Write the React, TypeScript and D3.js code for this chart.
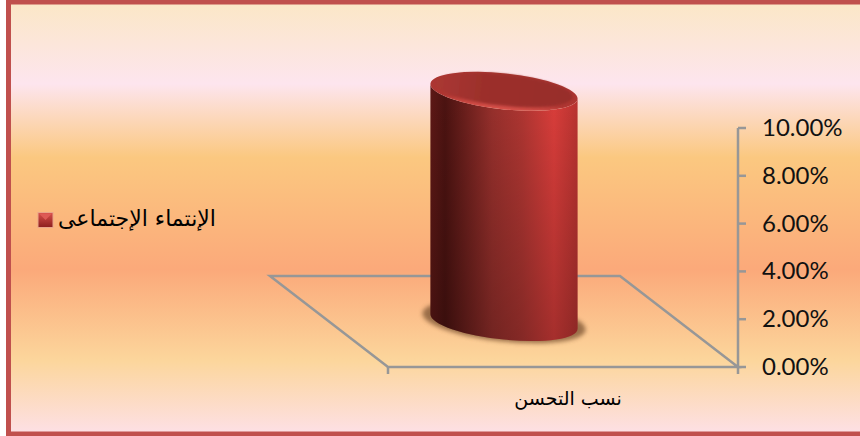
import React, { useEffect, useRef } from "react";
import * as d3 from "d3";

const categories = ["نسب التحسن"];
const seriesName = "الإنتماء الإجتماعى";
const seriesValues = [9.63];
const tickValues = [0, 2, 4, 6, 8, 10];

const WIDTH = 860;
const HEIGHT = 436;

const BG_STOPS: [number, string][] = [
  [0, "#fbe7c6"],
  [0.19, "#fde5ee"],
  [0.36, "#fbc880"],
  [0.62, "#fba97a"],
  [0.83, "#fcd69c"],
  [1, "#fde0e6"],
];

const BODY_STOPS: [number, string][] = [
  [0, "#5e1816"],
  [0.1, "#4c1311"],
  [0.42, "#98302c"],
  [0.62, "#b03632"],
  [0.84, "#dc3e3b"],
  [1, "#bb3431"],
];

export default function App() {
  const ref = useRef<SVGSVGElement>(null);

  useEffect(() => {
    const svg = d3.select(ref.current!);
    svg.selectAll("*").remove();
    const defs = svg.append("defs");

    const addGradient = (id: string, stops: [number, string][], vertical: boolean) => {
      const g = defs.append("linearGradient").attr("id", id)
        .attr("x1", 0).attr("y1", 0).attr("x2", vertical ? 0 : 1).attr("y2", vertical ? 1 : 0);
      stops.forEach(([o, c]) => g.append("stop").attr("offset", o).attr("stop-color", c));
      return g;
    };

    addGradient("bg", BG_STOPS, true);
    addGradient("body", BODY_STOPS, false);
    addGradient("capRim", [[0, "#a83531"], [0.75, "#ae3632"], [1, "#d9524b"]], true);
    addGradient("cap", [[0, "#aa3834"], [0.35, "#9c2f2b"], [1, "#982d2a"]], false);
    addGradient("legendKey", [[0, "#d9504c"], [1, "#8c1f1d"]], true);

    // Darkening towards the foot of the cylinder
    const shade = defs.append("linearGradient").attr("id", "bodyShade")
      .attr("x1", 0).attr("y1", 0).attr("x2", 0).attr("y2", 1);
    shade.append("stop").attr("offset", 0).attr("stop-color", "#000").attr("stop-opacity", 0);
    shade.append("stop").attr("offset", 1).attr("stop-color", "#000").attr("stop-opacity", 0.25);

    const blur = defs.append("filter").attr("id", "soft")
      .attr("x", "-10%").attr("y", "-20%").attr("width", "120%").attr("height", "140%");
    blur.append("feGaussianBlur").attr("stdDeviation", 2);
    const capBlur = defs.append("filter").attr("id", "capSoft")
      .attr("x", "-5%").attr("y", "-10%").attr("width", "110%").attr("height", "120%");
    capBlur.append("feGaussianBlur").attr("stdDeviation", 1.2);

    // Chart area; the frame runs off the right side of the page
    svg.append("rect").attr("x", 8.5).attr("y", 2).attr("width", 870).attr("height", 432)
      .attr("fill", "url(#bg)").attr("stroke", "#c0504d").attr("stroke-width", 5);

    const y = d3.scaleLinear().domain([0, 10]).range([367, 128]);
    const x = d3.scaleBand<string>().domain(categories).range([388, 738]).padding(0.408);

    const axisColor = "#979797";
    const axisWidth = 2.5;
    const depth = { dx: -118, dy: -91 };
    const [frontLeft, frontRight] = x.range();
    const baseY = y(0);

    // Floor of the 3D plot
    const floor = d3.line();
    svg.append("path")
      .attr("d", floor([
        [frontLeft, baseY],
        [frontRight, baseY],
        [frontRight + depth.dx, baseY + depth.dy],
        [frontLeft + depth.dx, baseY + depth.dy],
      ]) + "Z")
      .attr("fill", "none").attr("stroke", axisColor).attr("stroke-width", axisWidth);

    // Category ticks on the front edge
    x.range().forEach((px) => {
      svg.append("line").attr("x1", px).attr("x2", px).attr("y1", baseY).attr("y2", baseY + 7)
        .attr("stroke", axisColor).attr("stroke-width", axisWidth);
    });

    // Value axis
    const axisX = frontRight;
    svg.append("line").attr("x1", axisX).attr("x2", axisX).attr("y1", y(10)).attr("y2", y(0))
      .attr("stroke", axisColor).attr("stroke-width", axisWidth);
    const ticks = svg.append("g");
    tickValues.forEach((t) => {
      ticks.append("line").attr("x1", axisX).attr("x2", axisX + 8).attr("y1", y(t)).attr("y2", y(t))
        .attr("stroke", axisColor).attr("stroke-width", axisWidth);
      ticks.append("text").attr("x", 762).attr("y", y(t) + 8)
        .attr("font-family", "Lato").attr("font-size", 24).attr("fill", "#111")
        .text(d3.format(".2f")(t) + "%");
    });

    // Cylinder sits mid-way into the floor's depth
    const value = seriesValues[0];
    const cx = x(categories[0])! + x.bandwidth() / 2 + depth.dx / 2;
    const footY = baseY + depth.dy / 2;
    const headY = footY - (y(0) - y(value));
    const halfWidth = x.bandwidth() / 2;
    const ry = 18;
    const tilt = 6;
    const rad = (tilt * Math.PI) / 180;

    // Major radius that gives the tilted ellipse the bar's horizontal extent
    const majorR = Math.sqrt(
      (halfWidth ** 2 - ry ** 2 * Math.sin(rad) ** 2) / Math.cos(rad) ** 2
    );
    // Vertical offset of the ellipse's leftmost and rightmost points
    const sideDy = ((majorR ** 2 - ry ** 2) * Math.sin(rad) * Math.cos(rad)) / halfWidth;

    const arc = (sweep: number, px: number, py: number) =>
      `A${majorR} ${ry} ${tilt} 0 ${sweep} ${px},${py}`;
    const bodyPath =
      `M${cx - halfWidth},${headY - sideDy} L${cx - halfWidth},${footY - sideDy} ` +
      `${arc(0, cx + halfWidth, footY + sideDy)} L${cx + halfWidth},${headY + sideDy} ` +
      `${arc(1, cx - halfWidth, headY - sideDy)} Z`;

    svg.append("ellipse")
      .attr("cx", cx).attr("cy", footY)
      .attr("rx", majorR + 8).attr("ry", ry + 2)
      .attr("transform", `rotate(${tilt} ${cx} ${footY})`)
      .attr("fill", "#7a5230").attr("opacity", 0.75).attr("filter", "url(#soft)");

    svg.append("path").attr("d", bodyPath).attr("fill", "url(#body)");
    svg.append("path").attr("d", bodyPath).attr("fill", "url(#bodyShade)");

    // Top of the cylinder: lit rim along the lower edge, flat face inside
    svg.append("ellipse")
      .attr("cx", cx).attr("cy", headY)
      .attr("rx", majorR).attr("ry", ry)
      .attr("transform", `rotate(${tilt} ${cx} ${headY})`)
      .attr("fill", "url(#capRim)");
    svg.append("ellipse")
      .attr("cx", cx).attr("cy", headY - 1.5)
      .attr("rx", majorR - 5).attr("ry", ry - 2.5)
      .attr("transform", `rotate(${tilt} ${cx} ${headY})`)
      .attr("fill", "url(#cap)").attr("filter", "url(#capSoft)");

    // Category label
    svg.append("text").attr("x", 568).attr("y", 405).attr("text-anchor", "middle")
      .attr("direction", "rtl")
      .attr("font-family", "DejaVu Sans").attr("font-size", 19).attr("fill", "#000")
      .text(categories[0]);

    // Legend
    svg.append("rect").attr("x", 38).attr("y", 212.5).attr("width", 15).attr("height", 15)
      .attr("fill", "url(#legendKey)").attr("stroke", "#e9a58a").attr("stroke-width", 1);
    svg.append("path").attr("d", d3.line()([[39, 213.5], [45.5, 220], [52, 213.5]])!)
      .attr("fill", "#dd5a55");
    svg.append("text").attr("x", 137).attr("y", 226).attr("text-anchor", "middle")
      .attr("direction", "rtl")
      .attr("font-family", "DejaVu Sans").attr("font-size", 22).attr("fill", "#000")
      .text(seriesName);
  }, []);

  return (
    <svg
      ref={ref}
      width={WIDTH}
      height={HEIGHT}
      style={{ position: "absolute", left: 0, top: 0, display: "block" }}
    />
  );
}
